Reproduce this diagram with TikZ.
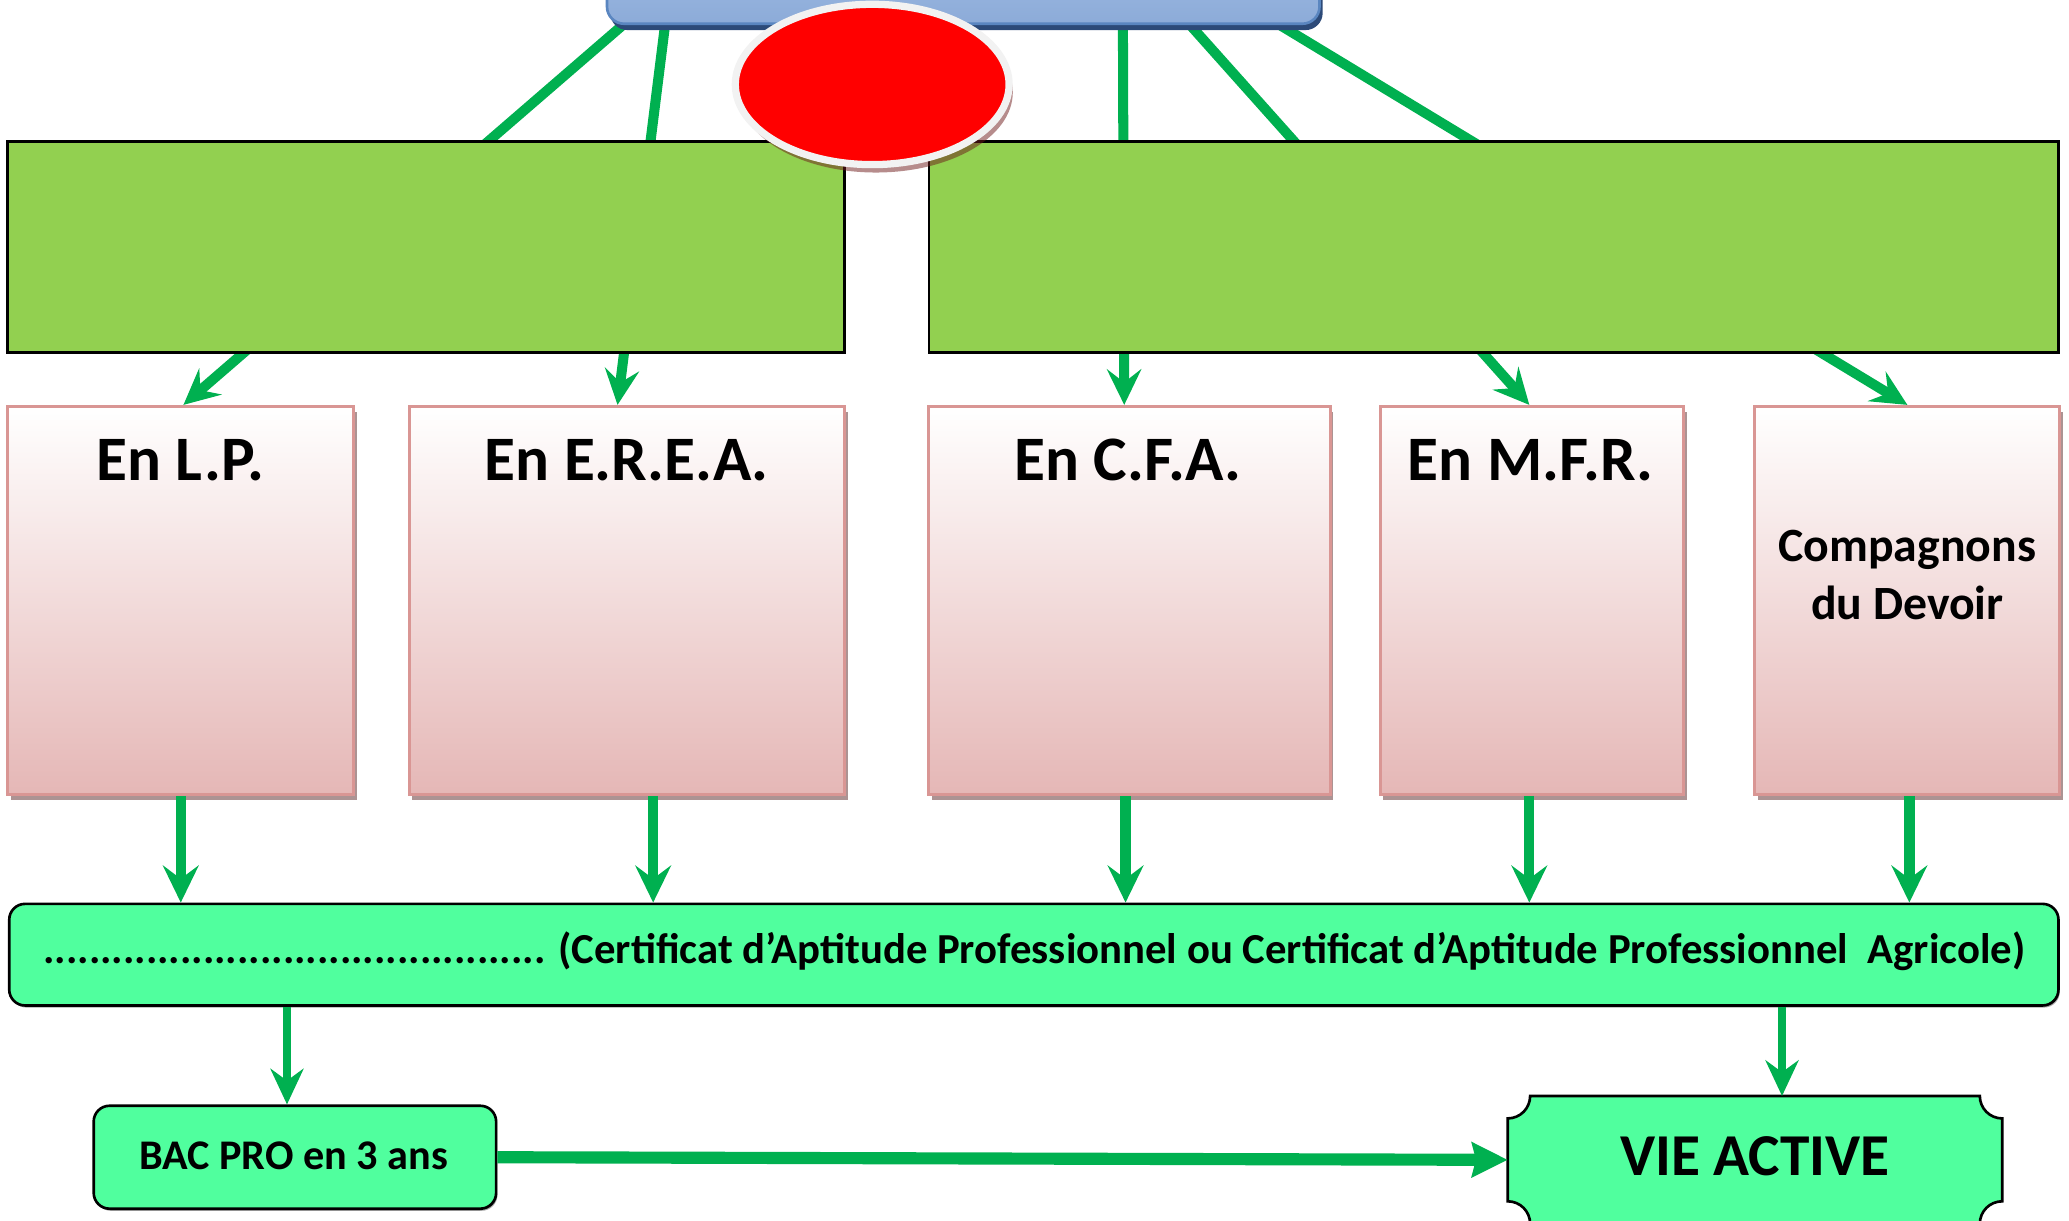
\documentclass[tikz,border=0pt]{standalone}
\usepackage{fontspec}
\setmainfont{Carlito}
\usetikzlibrary{arrows.meta,calc,shadows,backgrounds,fit,shapes.geometric}
\definecolor{arrowgreen}{HTML}{00B050}
\definecolor{boxgreen}{HTML}{92D050}
\definecolor{mint}{HTML}{50FF9E}
\definecolor{pinkborder}{HTML}{D99694}
\definecolor{pinkbottom}{HTML}{E5B7B6}
\definecolor{bluefill}{HTML}{8CABD8}
\definecolor{bluetop}{HTML}{A0BCE4}
\definecolor{blueborder}{HTML}{5A86C0}
\definecolor{blueshadow}{HTML}{2C4A78}
\definecolor{ringgray}{HTML}{F2F2F2}
\definecolor{pinkshadow}{HTML}{5A2828}
\definecolor{ovalshadow}{HTML}{6E1A1A}
\begin{document}
\begin{tikzpicture}[x=0.5pt,y=-0.5pt,
  pinkbox/.style={draw=pinkborder, line width=1.15pt, top color=white, bottom color=pinkbottom, inner sep=0pt,
    drop shadow={shadow xshift=1.2pt, shadow yshift=-2pt, fill=pinkshadow, opacity=0.5}},
  greenbox/.style={draw=black, line width=1.1pt, fill=boxgreen, inner sep=0pt},
  bluebox/.style={draw=blueborder, line width=1pt, top color=bluetop, bottom color=bluefill, rounded corners=6.5pt, inner sep=0pt,
    drop shadow={shadow xshift=1.2pt, shadow yshift=-2.4pt, fill=blueshadow, opacity=1}},
  redoval/.style={ellipse, draw=ringgray, line width=2.75pt, fill=red, minimum width=103.75pt, minimum height=60.75pt, inner sep=0pt,
    drop shadow={shadow xshift=1.4pt, shadow yshift=-3pt, fill=ovalshadow, opacity=0.5}},
  mintbox/.style={draw=black, line width=1pt, fill=mint, rounded corners=6pt, inner sep=0pt,
    drop shadow={shadow xshift=0.5pt, shadow yshift=-0.8pt, fill=black, opacity=0.35}},
  plaque/.style={draw=black, line width=1pt, fill=mint},
  bigtxt/.style={font=\bfseries\fontsize{24}{28}\selectfont, anchor=base, inner sep=0pt},
  comptxt/.style={font=\bfseries\fontsize{18.1}{22}\selectfont, align=center, inner sep=0pt},
  captxt/.style={font=\bfseries\fontsize{16.2}{19}\selectfont, inner sep=0pt},
  bactxt/.style={font=\bfseries\fontsize{16}{19}\selectfont, inner sep=0pt},
  vietxt/.style={font=\bfseries\fontsize{22.5}{26}\selectfont, inner sep=0pt},
  topline/.style={draw=arrowgreen, line width=3.8pt, -{Stealth[length=13.5pt,width=13pt,inset=5pt]}},
  lowarrow/.style={draw=arrowgreen, line width=3.9pt, -{Stealth[length=14pt,width=13.5pt,inset=5pt]}},
  thinarrow/.style={draw=arrowgreen, line width=3pt, -{Stealth[length=13.5pt,width=12.5pt,inset=4.5pt]}},
  thickarrow/.style={draw=arrowgreen, line width=4.6pt, -{Stealth[length=13.5pt,width=13pt,inset=1.5pt]}}
]
\useasboundingbox (0,0) rectangle (1568,925);
\clip (0,0) rectangle (1568,925);

% pink boxes
\node[pinkbox, fit={(6,308) (268,602)}] (lp) {};
\node[pinkbox, fit={(310,308) (640,602)}] (erea) {};
\node[pinkbox, fit={(704,308) (1008,602)}] (cfa) {};
\node[pinkbox, fit={(1046,308) (1276,602)}] (mfr) {};
\node[pinkbox, fit={(1330,308) (1561,602)}] (comp) {};

\node[bigtxt] (lpT) at (137,364) {En L.P.};
\node[bigtxt] (ereaT) at (475,364) {En E.R.E.A.};
\node[bigtxt] (cfaT) at (855,364) {En C.F.A.};
\node[bigtxt] (mfrT) at (1160,364) {En M.F.R.};
\node[comptxt] (compT) at (1445.5,436) {Compagnons\\du Devoir};

% green boxes
\node[greenbox, fit={(6,107) (640,267)}] (gl) {};
\node[greenbox, fit={(704,107) (1560,267)}] (gr) {};

% top blue box and red oval
\node[bluebox, fit={(460,-40) (1000,18)}] (blue) {};
\node[redoval] (oval) at (661,64) {};

% connectors from the top box, behind the green boxes
\begin{scope}[on background layer]
\draw[topline] ($(blue.south west)+(13,0)$) -- ($(lp.north)+(2,0)$);
\draw[topline] ($(blue.south west)+(45,0)$) -- ($(erea.north)+(-7,0)$);
\draw[topline] ($(blue.south west)+(392,0)$) -- ($(cfa.north)+(-4,0)$);
\draw[topline] ($(blue.south west)+(443,0)$) -- ($(mfr.north)+(-2,0)$);
\draw[topline] ($(blue.south west)+(511,0)$) -- (comp.north);
\end{scope}

% CAP bar
\node[mintbox, fit={(7,685) (1560,762)}] (bar) {};
\node[captxt] (capT) at (784,721) {............................................ (Certificat d’Aptitude Professionnel ou Certificat d’Aptitude Professionnel~ Agricole)};

% arrows from the pink boxes to the bar
\coordinate (a1) at ($(lp.south)+(0,0)$);
\coordinate (a2) at ($(erea.south)+(20,0)$);
\coordinate (a3) at ($(cfa.south)+(-3,0)$);
\coordinate (a4) at ($(mfr.south)+(-2,0)$);
\coordinate (a5) at ($(comp.south)+(1.5,0)$);
\draw[lowarrow] (a1) -- (a1 |- bar.north);
\draw[lowarrow] (a2) -- (a2 |- bar.north);
\draw[lowarrow] (a3) -- (a3 |- bar.north);
\draw[lowarrow] (a4) -- (a4 |- bar.north);
\draw[lowarrow] (a5) -- (a5 |- bar.north);

% BAC PRO box
\node[mintbox, fit={(71,838) (376,916)}] (bac) {};
\node[bactxt] (bacT) at (222.5,876) {BAC PRO en 3 ans};

% VIE ACTIVE plaque
\node[inner sep=0pt, fit={(1143,831) (1517,927)}] (vie) {};
\draw[plaque] ($(vie.north west)+(17,0)$) -- ($(vie.north east)+(-17,0)$)
  .. controls ($(vie.north east)+(-17,9.4)$) and ($(vie.north east)+(-9.4,17)$) .. ($(vie.north east)+(0,17)$)
  -- ($(vie.south east)+(0,-17)$)
  .. controls ($(vie.south east)+(-9.4,-17)$) and ($(vie.south east)+(-17,-9.4)$) .. ($(vie.south east)+(-17,0)$)
  -- ($(vie.south west)+(17,0)$)
  .. controls ($(vie.south west)+(17,-9.4)$) and ($(vie.south west)+(9.4,-17)$) .. ($(vie.south west)+(0,-17)$)
  -- ($(vie.north west)+(0,17)$)
  .. controls ($(vie.north west)+(9.4,17)$) and ($(vie.north west)+(17,9.4)$) .. cycle;
\node[vietxt] (vieT) at (1330,876) {VIE ACTIVE};

% arrows from the bar
\coordinate (b1) at ($(bac.north)+(-6,0)$);
\coordinate (b2) at ($(vie.north)+(20.5,0)$);
\draw[thinarrow] (b1 |- bar.south) -- (b1);
\draw[thinarrow] (b2 |- bar.south) -- (b2);
\draw[thickarrow] (bac.east) -- (vie.west);
\end{tikzpicture}
\end{document}
